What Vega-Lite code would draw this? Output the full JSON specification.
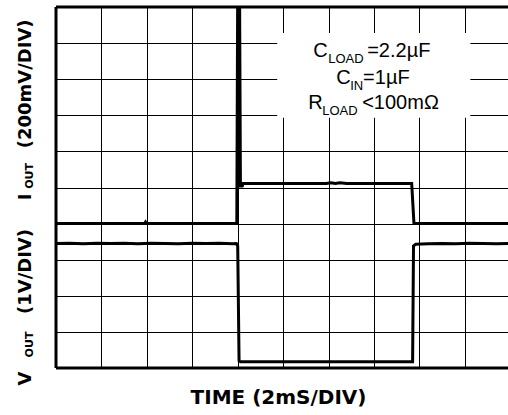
{
  "$schema": "https://vega.github.io/schema/vega-lite/v6.json",
  "width": 452,
  "height": 361,
  "autosize": {"type": "none"},
  "padding": {"left": 56, "top": 7, "right": 0, "bottom": 47},
  "background": "white",
  "config": {"view": {"stroke": null}},
  "data": {"values": [{}]},
  "datasets": {
    "traces": [
      {"series": "IOUT", "t": 0.0, "v": 4.0},
      {"series": "IOUT", "t": 1.95, "v": 4.0},
      {"series": "IOUT", "t": 1.97, "v": 4.04},
      {"series": "IOUT", "t": 1.99, "v": 4.0},
      {"series": "IOUT", "t": 3.98, "v": 4.0},
      {"series": "IOUT", "t": 4.0, "v": 10.6},
      {"series": "IOUT", "t": 4.04, "v": 10.6},
      {"series": "IOUT", "t": 4.06, "v": 5.04},
      {"series": "IOUT", "t": 4.1, "v": 5.04},
      {"series": "IOUT", "t": 4.12, "v": 5.11},
      {"series": "IOUT", "t": 5.95, "v": 5.11},
      {"series": "IOUT", "t": 6.05, "v": 5.13},
      {"series": "IOUT", "t": 6.15, "v": 5.11},
      {"series": "IOUT", "t": 6.25, "v": 5.13},
      {"series": "IOUT", "t": 6.4, "v": 5.11},
      {"series": "IOUT", "t": 7.83, "v": 5.11},
      {"series": "IOUT", "t": 7.88, "v": 4.0},
      {"series": "IOUT", "t": 9.95, "v": 4.0},
      {"series": "VOUT", "t": 0.0, "v": 3.45},
      {"series": "VOUT", "t": 0.3, "v": 3.455},
      {"series": "VOUT", "t": 0.6, "v": 3.445},
      {"series": "VOUT", "t": 0.9, "v": 3.455},
      {"series": "VOUT", "t": 1.2, "v": 3.45},
      {"series": "VOUT", "t": 1.5, "v": 3.455},
      {"series": "VOUT", "t": 1.8, "v": 3.445},
      {"series": "VOUT", "t": 2.1, "v": 3.455},
      {"series": "VOUT", "t": 2.4, "v": 3.45},
      {"series": "VOUT", "t": 2.7, "v": 3.445},
      {"series": "VOUT", "t": 3.0, "v": 3.455},
      {"series": "VOUT", "t": 3.3, "v": 3.45},
      {"series": "VOUT", "t": 3.6, "v": 3.455},
      {"series": "VOUT", "t": 3.9, "v": 3.445},
      {"series": "VOUT", "t": 3.97, "v": 3.45},
      {"series": "VOUT", "t": 4.0, "v": 3.38},
      {"series": "VOUT", "t": 4.03, "v": 0.2},
      {"series": "VOUT", "t": 4.06, "v": 0.17},
      {"series": "VOUT", "t": 7.85, "v": 0.17},
      {"series": "VOUT", "t": 7.87, "v": 3.38},
      {"series": "VOUT", "t": 7.92, "v": 3.43},
      {"series": "VOUT", "t": 8.2, "v": 3.44},
      {"series": "VOUT", "t": 8.5, "v": 3.45},
      {"series": "VOUT", "t": 8.8, "v": 3.445},
      {"series": "VOUT", "t": 9.1, "v": 3.455},
      {"series": "VOUT", "t": 9.4, "v": 3.45},
      {"series": "VOUT", "t": 9.7, "v": 3.445},
      {"series": "VOUT", "t": 9.95, "v": 3.45}
    ]
  },
  "resolve": {"scale": {"x": "shared", "y": "shared"}},
  "layer": [
    {
      "data": {"name": "traces"},
      "mark": {"type": "line", "color": "black", "strokeWidth": 3, "clip": true, "strokeJoin": "miter"},
      "encoding": {
        "x": {
          "field": "t", "type": "quantitative",
          "scale": {"domain": [0, 9.95], "nice": false, "zero": false},
          "axis": {
            "values": [1, 2, 3, 4, 5, 6, 7, 8, 9],
            "grid": true, "gridColor": "black", "gridWidth": 1, "gridOpacity": 1,
            "domain": false, "ticks": false, "labels": false,
            "title": "TIME (2mS/DIV)",
            "titleFont": "DejaVu Sans", "titleFontWeight": "bold", "titleFontSize": 20,
            "titleColor": "black", "titlePadding": 19, "titleX": 222
          }
        },
        "y": {
          "field": "v", "type": "quantitative",
          "scale": {"domain": [0, 10], "nice": false, "zero": false},
          "axis": {
            "values": [1, 2, 3, 4, 5, 6, 7, 8, 9],
            "grid": true, "gridColor": "black", "gridWidth": 1, "gridOpacity": 1,
            "domain": false, "ticks": false, "labels": false, "title": null
          }
        },
        "detail": {"field": "series"}
      }
    },
    {
      "mark": {"type": "rule", "color": "black", "strokeWidth": 3},
      "encoding": {"y": {"datum": 10}}
    },
    {
      "mark": {"type": "rule", "color": "black", "strokeWidth": 3},
      "encoding": {"y": {"datum": 0}}
    },
    {
      "mark": {"type": "rule", "color": "black", "strokeWidth": 3},
      "encoding": {"x": {"datum": 0}}
    },
    {
      "mark": {"type": "rect", "color": "white", "opacity": 1},
      "encoding": {
        "x": {"datum": 4.87}, "x2": {"datum": 9.12},
        "y": {"datum": 6.93}, "y2": {"datum": 9.28}
      }
    },
    {
      "mark": {"type": "text", "font": "Liberation Sans", "fontSize": 20, "align": "left", "baseline": "alphabetic", "color": "black"},
      "encoding": {"x": {"datum": 5.661}, "y": {"datum": 8.623}, "text": {"value": "C"}}
    },
    {
      "mark": {"type": "text", "font": "Liberation Sans", "fontSize": 13, "align": "left", "baseline": "alphabetic", "color": "black"},
      "encoding": {"x": {"datum": 5.991}, "y": {"datum": 8.457}, "text": {"value": "LOAD"}}
    },
    {
      "mark": {"type": "text", "font": "Liberation Sans", "fontSize": 20, "align": "left", "baseline": "alphabetic", "color": "black"},
      "encoding": {"x": {"datum": 6.85}, "y": {"datum": 8.623}, "text": {"value": "=2.2µF"}}
    },
    {
      "mark": {"type": "text", "font": "Liberation Sans", "fontSize": 20, "align": "left", "baseline": "alphabetic", "color": "black"},
      "encoding": {"x": {"datum": 6.167}, "y": {"datum": 7.86}, "text": {"value": "C"}}
    },
    {
      "mark": {"type": "text", "font": "Liberation Sans", "fontSize": 13, "align": "left", "baseline": "alphabetic", "color": "black"},
      "encoding": {"x": {"datum": 6.476}, "y": {"datum": 7.693}, "text": {"value": "IN"}}
    },
    {
      "mark": {"type": "text", "font": "Liberation Sans", "fontSize": 20, "align": "left", "baseline": "alphabetic", "color": "black"},
      "encoding": {"x": {"datum": 6.76}, "y": {"datum": 7.86}, "text": {"value": "=1µF"}}
    },
    {
      "mark": {"type": "text", "font": "Liberation Sans", "fontSize": 20, "align": "left", "baseline": "alphabetic", "color": "black"},
      "encoding": {"x": {"datum": 5.551}, "y": {"datum": 7.166}, "text": {"value": "R"}}
    },
    {
      "mark": {"type": "text", "font": "Liberation Sans", "fontSize": 13, "align": "left", "baseline": "alphabetic", "color": "black"},
      "encoding": {"x": {"datum": 5.859}, "y": {"datum": 7.0}, "text": {"value": "LOAD"}}
    },
    {
      "mark": {"type": "text", "font": "Liberation Sans", "fontSize": 20, "align": "left", "baseline": "alphabetic", "color": "black"},
      "encoding": {"x": {"datum": 6.74}, "y": {"datum": 7.166}, "text": {"value": "<100mΩ"}}
    },
    {
      "mark": {"type": "text", "font": "DejaVu Sans", "fontWeight": "bold", "fontSize": 18, "angle": 270, "align": "center", "baseline": "alphabetic", "color": "black"},
      "encoding": {"x": {"datum": -0.551}, "y": {"datum": 7.87}, "text": {"value": "(200mV/DIV)"}}
    },
    {
      "mark": {"type": "text", "font": "DejaVu Sans", "fontWeight": "bold", "fontSize": 11, "angle": 270, "align": "center", "baseline": "alphabetic", "color": "black"},
      "encoding": {"x": {"datum": -0.496}, "y": {"datum": 5.32}, "text": {"value": "OUT"}}
    },
    {
      "mark": {"type": "text", "font": "DejaVu Sans", "fontWeight": "bold", "fontSize": 18, "angle": 270, "align": "center", "baseline": "alphabetic", "color": "black"},
      "encoding": {"x": {"datum": -0.551}, "y": {"datum": 4.74}, "text": {"value": "I"}}
    },
    {
      "mark": {"type": "text", "font": "DejaVu Sans", "fontWeight": "bold", "fontSize": 18, "angle": 270, "align": "center", "baseline": "alphabetic", "color": "black"},
      "encoding": {"x": {"datum": -0.551}, "y": {"datum": 2.673}, "text": {"value": "(1V/DIV)"}}
    },
    {
      "mark": {"type": "text", "font": "DejaVu Sans", "fontWeight": "bold", "fontSize": 11, "angle": 270, "align": "center", "baseline": "alphabetic", "color": "black"},
      "encoding": {"x": {"datum": -0.496}, "y": {"datum": 0.651}, "text": {"value": "OUT"}}
    },
    {
      "mark": {"type": "text", "font": "DejaVu Sans", "fontWeight": "bold", "fontSize": 18, "angle": 270, "align": "center", "baseline": "alphabetic", "color": "black"},
      "encoding": {"x": {"datum": -0.551}, "y": {"datum": -0.29}, "text": {"value": "V"}}
    }
  ]
}
